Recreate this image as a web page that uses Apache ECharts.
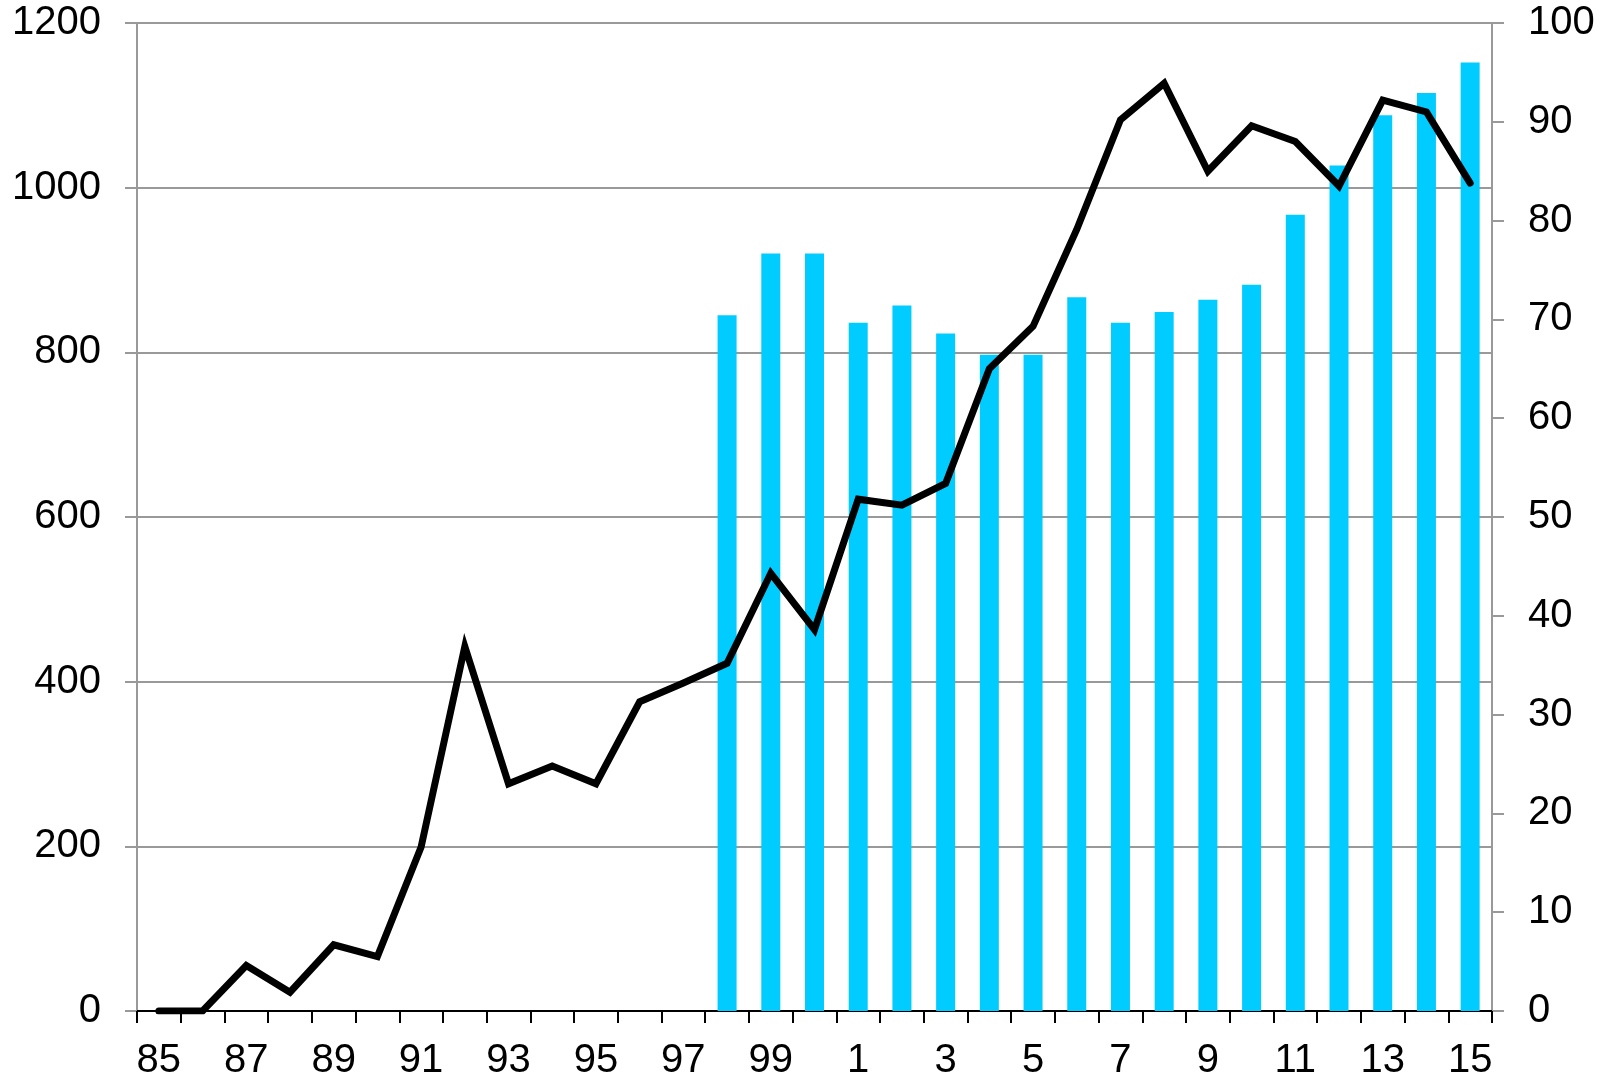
<!DOCTYPE html>
<html>
<head>
<meta charset="utf-8">
<script src="https://cdn.jsdelivr.net/npm/echarts@6/dist/echarts.min.js"></script>
<style>
  html, body { margin: 0; padding: 0; background: #ffffff; }
  #chart { width: 1617px; height: 1080px; }
</style>
</head>
<body>
<div id="chart"></div>
<script>
  // years 1985..2015, shown as two-digit labels
  const years = ["85", "86", "87", "88", "89", "90", "91", "92", "93", "94", "95", "96", "97", "98", "99",
                 "0", "1", "2", "3", "4", "5", "6", "7", "8", "9", "10", "11", "12", "13", "14", "15"];

  // bars, left axis (0-1200)
  const barValues = [null, null, null, null, null, null, null, null, null, null, null, null, null,
                     845, 920, 920, 836, 857, 823, 797, 797, 867, 836, 849, 864, 882, 967, 1027, 1088, 1115, 1152];

  // line, right axis (0-100)
  const lineValues = [0, 0, 4.6, 1.9, 6.7, 5.5, 16.6, 36.9, 23.0, 24.8, 23.0, 31.3, 33.2, 35.2, 44.3,
                      38.6, 51.8, 51.2, 53.4, 65.0, 69.3, 79.1, 90.2, 93.9, 85.0, 89.6, 88.0, 83.5, 92.2, 91.0, 83.8];

  const leftTicks = { min: 0, max: 1200, interval: 200 };
  const rightTicks = { min: 0, max: 100, interval: 10 };

  const font = "'Liberation Sans', Arial, sans-serif";
  const grey = "#999999";

  const chart = echarts.init(document.getElementById("chart"));
  chart.setOption({
    animation: false,
    backgroundColor: "#ffffff",
    grid: {
      left: 137,
      right: 125,
      top: 23,
      bottom: 69,
      containLabel: false,
      outerBoundsMode: "none"
    },
    xAxis: {
      type: "category",
      data: years,
      boundaryGap: true,
      axisLine: { lineStyle: { color: "#000000", width: 2 } },
      axisTick: { show: true, interval: 0, length: 12, lineStyle: { color: "#000000", width: 2 } },
      axisLabel: { interval: 1, margin: 30, fontSize: 40, color: "#000000", fontFamily: font },
      splitLine: { show: false }
    },
    yAxis: [
      {
        type: "value",
        position: "left",
        min: leftTicks.min,
        max: leftTicks.max,
        interval: leftTicks.interval,
        axisLine: { show: true, lineStyle: { color: grey, width: 2 } },
        axisTick: { show: true, length: 12, lineStyle: { color: grey, width: 2 } },
        axisLabel: { margin: 36, fontSize: 40, color: "#000000", fontFamily: font,
                     formatter: (v) => String(v) },
        splitLine: { show: true, lineStyle: { color: grey, width: 2 } }
      },
      {
        type: "value",
        position: "right",
        min: rightTicks.min,
        max: rightTicks.max,
        interval: rightTicks.interval,
        axisLine: { show: true, lineStyle: { color: grey, width: 2 } },
        axisTick: { show: true, length: 12, lineStyle: { color: grey, width: 2 } },
        axisLabel: { margin: 36, fontSize: 40, color: "#000000", fontFamily: font,
                     formatter: (v) => String(v) },
        splitLine: { show: false }
      }
    ],
    series: [
      {
        name: "bars",
        type: "bar",
        yAxisIndex: 0,
        data: barValues,
        barWidth: 19,
        itemStyle: { color: "#00ccff" },
        z: 2
      },
      {
        name: "line",
        type: "line",
        yAxisIndex: 1,
        data: lineValues,
        showSymbol: false,
        symbol: "none",
        lineStyle: { color: "#000000", width: 7, cap: "round", join: "miter" },
        z: 3
      }
    ]
  });
</script>
</body>
</html>
